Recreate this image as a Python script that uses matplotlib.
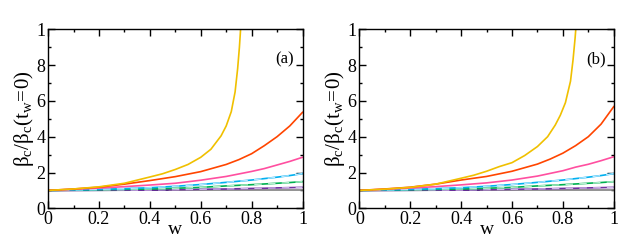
import numpy as np
import matplotlib
matplotlib.use("Agg")
import matplotlib.pyplot as plt
from matplotlib.ticker import MultipleLocator

plt.rcParams['font.family'] = ['Liberation Serif', 'DejaVu Serif']
plt.rcParams['mathtext.fontset'] = 'stix'

# values
w_yel_a = [0, 0.1, 0.2, 0.3, 0.4, 0.45, 0.5, 0.55, 0.6, 0.64, 0.68, 0.7, 0.72, 0.735, 0.745, 0.752, 0.758]
v_yel_a = [1, 1.08, 1.2, 1.4, 1.75, 1.93, 2.17, 2.45, 2.85, 3.3, 4.05, 4.6, 5.4, 6.5, 7.8, 9.0, 10.3]
w_yel_b = [0, 0.1, 0.2, 0.3, 0.4, 0.45, 0.5, 0.55, 0.6, 0.65, 0.7, 0.74, 0.77, 0.79, 0.81, 0.83, 0.84, 0.848, 0.853]
v_yel_b = [1, 1.07, 1.17, 1.35, 1.68, 1.85, 2.07, 2.33, 2.55, 2.95, 3.45, 4.0, 4.65, 5.2, 5.9, 7.1, 8.3, 9.5, 10.4]

w_red = [0, 0.1, 0.2, 0.3, 0.4, 0.5, 0.6, 0.7, 0.75, 0.8, 0.85, 0.9, 0.95, 1.0]
v_red_a = [1, 1.08, 1.18, 1.35, 1.55, 1.77, 2.05, 2.45, 2.72, 3.05, 3.5, 4.0, 4.6, 5.36]
v_red_b = [1, 1.08, 1.18, 1.35, 1.58, 1.78, 2.07, 2.47, 2.75, 3.08, 3.5, 4.0, 4.7, 5.68]

w_grid = [0, 0.1, 0.2, 0.3, 0.4, 0.5, 0.6, 0.7, 0.8, 0.85, 0.9, 0.95, 1.0]
v_pink_a = [1, 1.06, 1.13, 1.21, 1.3, 1.4, 1.57, 1.78, 2.06, 2.22, 2.42, 2.62, 2.85]
v_pink_b = [1, 1.06, 1.13, 1.21, 1.31, 1.42, 1.58, 1.8, 2.1, 2.3, 2.46, 2.66, 2.88]
v_blue = [1, 1.03, 1.06, 1.1, 1.15, 1.23, 1.33, 1.45, 1.58, 1.66, 1.74, 1.83, 1.94]
v_green = [1, 1.02, 1.04, 1.06, 1.08, 1.12, 1.17, 1.25, 1.32, 1.36, 1.4, 1.44, 1.49]
v_purple = [1, 1.005, 1.01, 1.015, 1.02, 1.04, 1.06, 1.08, 1.11, 1.12, 1.14, 1.155, 1.17]
w_flat = [0, 1]
v_flat = [1, 1]
w_navy = [0, 0.47]
v_navy = [1.0, 1.02]

panels = [
    ("(a)", w_yel_a, v_yel_a, v_red_a, v_pink_a),
    ("(b)", w_yel_b, v_yel_b, v_red_b, v_pink_b),
]

fig = plt.figure(figsize=(6.25, 2.48), dpi=100)
lefts = [0.077, 0.575]
for (lab, wy, vy, vr, vp), left in zip(panels, lefts):
    ax = fig.add_axes([left, 0.16, 0.407, 0.722])
    ax.plot(w_flat, v_flat, color='#808080', lw=1.2)
    ax.plot(w_navy, v_navy, color='#1a1a50', lw=1.2)
    ax.plot(w_grid, v_purple, color='#7030a0', lw=1.2)
    ax.plot(w_grid, v_purple, color='#d0b8ea', lw=0.9, ls=(0, (6, 5)))
    ax.plot(w_grid, v_green, color='#00b050', lw=1.2)
    ax.plot(w_grid, v_green, color='#b8f0d0', lw=0.9, ls=(0, (6, 5)))
    ax.plot(w_grid, v_blue, color='#00b0f0', lw=1.2)
    ax.plot(w_grid, v_blue, color='#b8e8ff', lw=0.9, ls=(0, (6, 5)))
    ax.plot(w_grid, vp, color='#ff4fa0', lw=1.2)
    ax.plot(w_red, vr, color='#ff4500', lw=1.2)
    ax.plot(wy, vy, color='#f0c000', lw=1.2)

    ax.set_xlim(0, 1)
    ax.set_ylim(0, 10)
    ax.xaxis.set_minor_locator(MultipleLocator(0.1))
    ax.yaxis.set_minor_locator(MultipleLocator(1))
    ax.set_xticks([0, 0.2, 0.4, 0.6, 0.8, 1.0])
    ax.set_xticklabels(['0', '0.2', '0.4', '0.6', '0.8', '1'])
    ax.set_yticks([0, 2, 4, 6, 8, 10])
    ax.set_yticklabels(['0', '2', '4', '6', '8', '1'])
    ax.tick_params(which='both', direction='in', top=True, right=True,
                   labelsize=13, width=1.0, pad=2)
    ax.tick_params(which='major', length=5)
    ax.tick_params(which='minor', length=2.5)
    for s in ax.spines.values():
        s.set_linewidth(1.0)
    ax.set_xlabel('w', fontsize=14, labelpad=-5)
    ax.set_ylabel(r'$\mathregular{\beta_c/\beta_c(t_w\!=\!0)}$', fontsize=15, labelpad=0)
    ax.text(0.93, 0.83, lab, transform=ax.transAxes, ha='center', va='center', fontsize=12)

fig.savefig('out.png', dpi=100)
